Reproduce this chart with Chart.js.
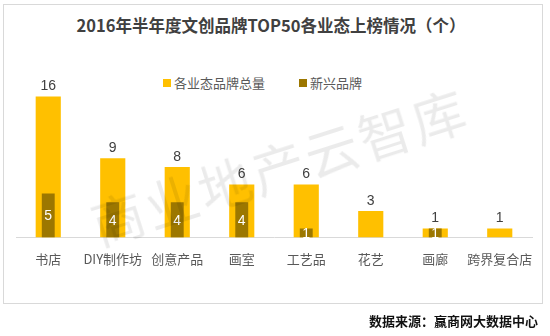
<!DOCTYPE html>
<html>
<head>
<meta charset="utf-8">
<script src="https://cdn.jsdelivr.net/npm/chart.js@4"></script>
<style>
  body { margin: 0; width: 550px; height: 336px; background: #fff; position: relative; overflow: hidden;
         font-family: "Noto Sans CJK SC", "Noto Sans", sans-serif; }
  #frame { position: absolute; left: 3px; top: 4px; width: 540px; height: 300px; border: 1px solid #d9d9d9; box-sizing: border-box; }
  #title { position: absolute; left: 0; width: 542px; top: 13px; text-align: center; font-size: 16.5px; font-weight: bold; color: #404040; }
  .legend { position: absolute; top: 75px; font-size: 13px; color: #595959; line-height: 16px; }
  .legend span { display: inline-block; width: 8px; height: 8px; margin-right: 3px; vertical-align: 1px; }
  #source { position: absolute; right: 12px; top: 311px; font-size: 13px; font-weight: bold; color: #111; }
  #wm { position: absolute; left: 279px; top: 165px; transform: translate(-50%, -50%) rotate(-17.7deg);
        font-size: 53px; letter-spacing: 3px; color: rgba(0,0,0,0.08); white-space: nowrap; pointer-events: none; }
  #wrap { position: absolute; left: 0; top: 0; width: 550px; height: 336px; }
</style>
</head>
<body>
<div id="frame"></div>
<div id="title">2016年半年度文创品牌TOP50各业态上榜情况（个）</div>
<div class="legend" style="left:163px"><span style="background:#FFC000"></span>各业态品牌总量</div>
<div class="legend" style="left:299px"><span style="background:#9C7700"></span>新兴品牌</div>
<div id="wrap"><canvas id="chart" width="550" height="336"></canvas></div>
<div id="wm">商业地产云智库</div>
<div id="source">数据来源：赢商网大数据中心</div>
<script>
const categories = ["书店", "DIY制作坊", "创意产品", "画室", "工艺品", "花艺", "画廊", "跨界复合店"];
const totalBrands = [16, 9, 8, 6, 6, 3, 1, 1];
const newBrands = [5, 4, 4, 4, 1, null, 1, null];

// value labels: above the yellow bars, white inside the dark ones
const valueLabels = {
    id: "valueLabels",
    afterDatasetsDraw(chart) {
        const ctx = chart.ctx;
        ctx.save();
        ctx.textAlign = "center";
        ctx.textBaseline = "middle";
        ctx.font = "14px 'Liberation Sans', sans-serif";
        chart.data.datasets.forEach((ds, i) => {
            const meta = chart.getDatasetMeta(i);
            meta.data.forEach((bar, j) => {
                const v = ds.data[j];
                if (v === null || v === undefined) return;
                if (i === 0) {
                    ctx.fillStyle = "#404040";
                    ctx.fillText(v, bar.x, bar.y - 10);
                } else {
                    ctx.fillStyle = "#ffffff";
                    ctx.fillText(v, bar.x, (bar.y + bar.base) / 2 + 1);
                }
            });
        });
        ctx.restore();
    }
};

new Chart(document.getElementById("chart"), {
    type: "bar",
    data: {
        labels: categories,
        datasets: [
            {
                label: "各业态品牌总量",
                data: totalBrands,
                backgroundColor: "#FFC000",
                barPercentage: 0.39,
                categoryPercentage: 1,
                grouped: false,
                order: 2
            },
            {
                label: "新兴品牌",
                data: newBrands,
                backgroundColor: "#9C7700",
                barPercentage: 0.2,
                categoryPercentage: 1,
                grouped: false,
                order: 1
            }
        ]
    },
    options: {
        responsive: false,
        animation: false,
        devicePixelRatio: 1,
        layout: { padding: { left: 16, right: 18, top: 79, bottom: 55 } },
        plugins: { legend: { display: false }, tooltip: { enabled: false } },
        scales: {
            x: {
                grid: { display: false, drawTicks: false },
                border: { color: "#d9d9d9" },
                ticks: {
                    color: "#595959", padding: 14, maxRotation: 0, minRotation: 0, autoSkip: false,
                    font: { size: 13, family: "'Noto Sans CJK SC', sans-serif" }
                }
            },
            y: { display: false, min: 0, max: 18 }
        }
    },
    plugins: [valueLabels]
});
</script>
</body>
</html>
